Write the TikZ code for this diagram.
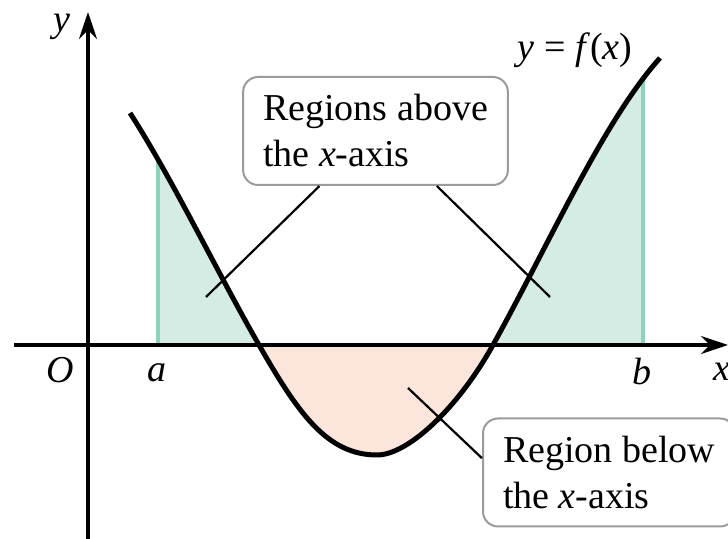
\documentclass[tikz,border=0pt]{standalone}
\usepackage{fontspec}
\setmainfont{Liberation Serif}
\usetikzlibrary{arrows.meta,calc}
\definecolor{areamint}{RGB}{213,236,228}
\definecolor{edgemint}{RGB}{140,211,190}
\definecolor{areapink}{RGB}{252,229,219}
\definecolor{boxgrey}{RGB}{155,155,155}
\newcommand{\bigtext}{\fontsize{19}{23}\selectfont}
\newcommand{\fcurve}{(42,232) .. controls (85,165) and (128,75) .. (171,0)
  .. controls (210,-68) and (239,-110) .. (289,-110)
  .. controls (320,-110) and (370,-63) .. (405,0)
  .. controls (461,101) and (516,225) .. (572,287)}
\newcommand{\farea}{\fcurve -- (572,0) -- (42,0) -- cycle}
\tikzset{
  axis/.style={-{Stealth[length=13.5pt,width=9pt]}, line width=1.6pt},
  graph/.style={line width=2.5pt, line join=round},
  pointer/.style={line width=1.1pt},
  bound/.style={draw=edgemint, line width=2.4pt},
  labelbox/.style={
    draw=boxgrey,
    line width=1pt,
    rounded corners=7.5pt,
    fill=white,
    align=left,
    inner xsep=10pt,
    minimum height=54pt,
    font=\bigtext
  },
  ticklabel/.style={font=\bigtext\itshape}
}

\begin{document}
\begin{tikzpicture}[x=0.5pt,y=0.5pt]
  \useasboundingbox (-88,-194) rectangle (640,345);

  \begin{scope}
    \clip (70,0) rectangle (555,400);
    \fill[areamint] \farea;
  \end{scope}
  \begin{scope}
    \clip (0,-250) rectangle (640,0);
    \fill[areapink] \farea;
  \end{scope}
  \begin{scope}
    \clip \farea;
    \draw[bound] (70,0) -- (70,300);
    \draw[bound] (555,0) -- (555,300);
  \end{scope}

  \draw[axis] (-74,0) -- (640,0);
  \draw[axis] (0,-194) -- (0,333);
  \draw[graph] \fcurve;

  \node[ticklabel] (ylab) at (-26,318) {y};
  \node[ticklabel] (olab) at (-28,-25) {O};
  \node[ticklabel] (alab) at (69,-28) {a};
  \node[ticklabel] (blab) at (554,-27) {b};
  \node[ticklabel] (xlab) at (634,-27) {x};
  \node[font=\bigtext] (flab) at (487,295) {\textit{y} = \textit{f}(\textit{x})};

  \node[labelbox] (abovebox) at (287.5,214) {Regions above\\the \textit{x}-axis};
  \node[labelbox,anchor=west] (belowbox) at (394,-127.5) {Region below\\the \textit{x}-axis};

  \coordinate (tipL) at (118,48);
  \coordinate (tipR) at (462,48);
  \coordinate (tipB) at (320,-43);
  \draw[pointer] ($(abovebox.south west)!0.29!(abovebox.south east)$) -- (tipL);
  \draw[pointer] ($(abovebox.south west)!0.73!(abovebox.south east)$) -- (tipR);
  \draw[pointer] (tipB) -- ($(belowbox.north west)!0.37!(belowbox.south west)$);
\end{tikzpicture}
\end{document}
